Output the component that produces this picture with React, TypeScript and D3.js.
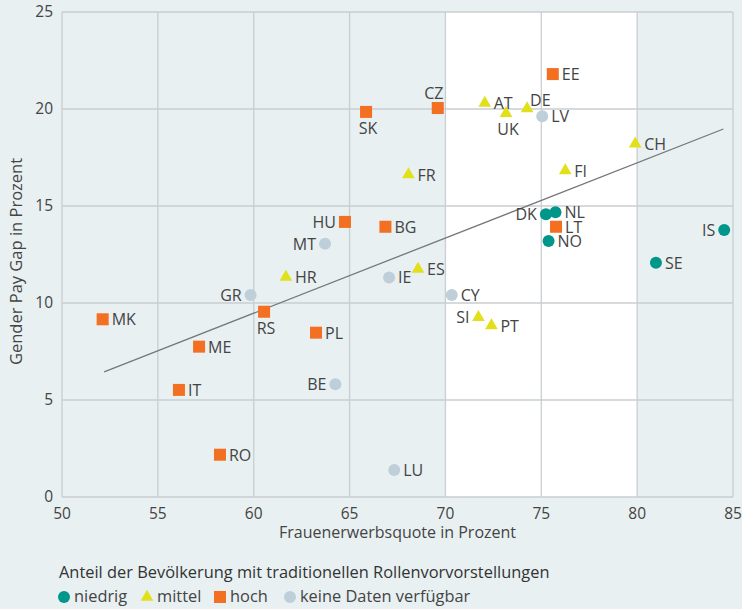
import * as d3 from 'd3'

const countries = ['EE', 'CZ', 'SK', 'AT', 'DE', 'UK', 'LV', 'CH', 'FI', 'FR', 'HU', 'BG', 'MT', 'DK', 'NL', 'LT', 'NO', 'IS', 'SE', 'HR', 'IE', 'ES', 'GR', 'CY', 'RS', 'MK', 'SI', 'PT', 'PL', 'ME', 'BE', 'IT', 'RO', 'LU']
const employment = [75.6, 69.6, 65.86, 72.05, 74.26, 73.16, 75.05, 79.9, 76.25, 68.07, 64.76, 66.87, 63.72, 75.24, 75.74, 75.77, 75.38, 84.54, 80.98, 61.68, 67.06, 68.57, 59.84, 70.33, 60.54, 52.12, 71.72, 72.4, 63.25, 57.15, 64.26, 56.1, 58.24, 67.33]
const payGap = [21.8, 20.05, 19.85, 20.3, 20.02, 19.78, 19.63, 18.2, 16.82, 16.62, 14.18, 13.93, 13.05, 14.58, 14.68, 13.93, 13.2, 13.76, 12.07, 11.34, 11.32, 11.75, 10.41, 10.41, 9.55, 9.16, 9.26, 8.83, 8.47, 7.75, 5.81, 5.52, 2.18, 1.39]
const group = ['hoch', 'hoch', 'hoch', 'mittel', 'mittel', 'mittel', 'keine', 'mittel', 'mittel', 'mittel', 'hoch', 'hoch', 'keine', 'niedrig', 'niedrig', 'hoch', 'niedrig', 'niedrig', 'niedrig', 'mittel', 'keine', 'mittel', 'keine', 'keine', 'hoch', 'hoch', 'mittel', 'mittel', 'hoch', 'hoch', 'keine', 'hoch', 'hoch', 'keine']
const labelSide = ['right', 'top', 'bottom', 'right', 'upright', 'bottom', 'right', 'right', 'right', 'right', 'left', 'right', 'left', 'left', 'right', 'right', 'right', 'left', 'right', 'right', 'right', 'right', 'left', 'right', 'bottom', 'right', 'left', 'right', 'right', 'right', 'left', 'right', 'right', 'right']

const trendX = [52.2, 84.5]
const trendY = [6.45, 18.97]

const xTicks = [50, 55, 60, 65, 70, 75, 80, 85]
const yTicks = [0, 5, 10, 15, 20, 25]

const legendKeys = ['niedrig', 'mittel', 'hoch', 'keine']
const legendLabels = ['niedrig', 'mittel', 'hoch', 'keine Daten verfügbar']

const colors: Record<string, string> = {
  niedrig: '#00968a',
  mittel: '#e2e01b',
  hoch: '#f36f21',
  keine: '#bfcfd9',
}

const W = 742
const H = 609
const font = '"Open Sans", "Noto Sans", sans-serif'
const textColor = '#444'

function Marker({ kind, x, y }: { kind: string; x: number; y: number }) {
  const c = colors[kind]
  if (kind === 'hoch') return <rect x={x - 6} y={y - 6} width={12} height={12} fill={c} />
  if (kind === 'mittel') {
    const p = d3.symbol(d3.symbolTriangle, 70)()
    return <path d={p || ''} transform={`translate(${x},${y})`} fill={c} />
  }
  return <circle cx={x} cy={y} r={6} fill={c} />
}

export default function App() {
  const x = d3.scaleLinear().domain([50, 85]).range([62, 733])
  const y = d3.scaleLinear().domain([0, 25]).range([497, 12])
  const line = d3.line<number>().x((d) => x(d)).y((_, i) => y(trendY[i]))

  return (
    <svg width={W} height={H} style={{ position: 'absolute', left: 0, top: 0, fontFamily: font }}>
      <rect width={W} height={H} fill="#e8f0f2" />
      <rect x={x(70)} y={y(25)} width={x(80) - x(70)} height={y(0) - y(25)} fill="#ffffff" />
      {xTicks.map((t) => (
        <line key={'gx' + t} x1={x(t)} x2={x(t)} y1={y(0)} y2={y(25)} stroke="#c8ced1" strokeWidth={1.3} />
      ))}
      {yTicks.map((t) => (
        <line key={'gy' + t} x1={x(50)} x2={x(85)} y1={y(t)} y2={y(t)} stroke="#c8ced1" strokeWidth={1.3} />
      ))}
      {xTicks.map((t) => (
        <text key={'tx' + t} x={x(t)} y={y(0) + 22} textAnchor="middle" fontSize={15.5} fill={textColor}>{t}</text>
      ))}
      {yTicks.map((t) => (
        <text key={'ty' + t} x={53} y={y(t) + 5} textAnchor="end" fontSize={15.5} fill={textColor}>{t}</text>
      ))}
      <text x={(x(50) + x(85)) / 2} y={538} textAnchor="middle" fontSize={16} fill={textColor}>Frauenerwerbsquote in Prozent</text>
      <text transform={`translate(22,${(y(0) + y(25)) / 2 + 7}) rotate(-90)`} textAnchor="middle" fontSize={16.5} fill={textColor}>Gender Pay Gap in Prozent</text>
      <path d={line(trendX) || ''} fill="none" stroke="#777" strokeWidth={1.3} />
      {countries.map((c, i) => {
        const px = x(employment[i])
        const py = y(payGap[i])
        const side = labelSide[i]
        let tx = px + 9
        let ty = py + 6
        let anchor = 'start'
        if (side === 'upright') { tx = px + 3; ty = py - 3 }
        if (side === 'left') { tx = px - 9; anchor = 'end' }
        if (side === 'top') { tx = px - 4; ty = py - 9; anchor = 'middle' }
        if (side === 'bottom') { tx = px + 2; ty = py + 22; anchor = 'middle' }
        return (
          <g key={c}>
            <Marker kind={group[i]} x={px} y={py} />
            <text x={tx} y={ty} textAnchor={anchor as any} fontSize={16} fill={textColor}>{c}</text>
          </g>
        )
      })}
      <text x={59} y={578} fontSize={16.4} fill="#333">Anteil der Bevölkerung mit traditionellen Rollenvorvorstellungen</text>
      {(() => {
        const offs = [59, 142, 215, 285]
        return legendKeys.map((k, i) => (
          <g key={k}>
            <Marker kind={k} x={offs[i] + 5} y={597} />
            <text x={offs[i] + 15} y={602} fontSize={16.4} fill={textColor}>{legendLabels[i]}</text>
          </g>
        ))
      })()}
    </svg>
  )
}
